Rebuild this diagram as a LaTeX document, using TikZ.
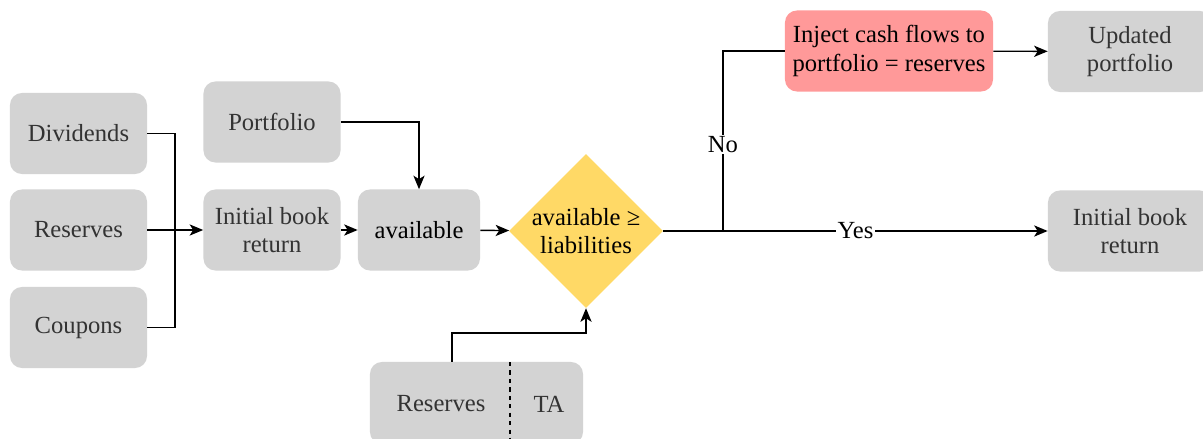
\documentclass[tikz,border=0pt]{standalone}
\usepackage{fontspec}
\setmainfont{Liberation Serif}
\usetikzlibrary{shapes.geometric,arrows.meta}
\definecolor{boxgray}{HTML}{D3D3D3}
\definecolor{textgray}{HTML}{333333}
\definecolor{injred}{HTML}{FF9999}
\definecolor{checkyellow}{HTML}{FFD966}
\begin{document}
\begin{tikzpicture}[x=0.025cm,y=-0.025cm,
    font=\fontsize{17.5}{20}\selectfont,
    box/.style={fill=boxgray, rounded corners=0.3cm, minimum width=3.425cm, minimum height=2.025cm, align=center, text=textgray},
    decision/.style={diamond, fill=checkyellow, minimum width=3.8cm, minimum height=3.8cm, inner sep=0pt, align=center},
    lbl/.style={text=textgray},
    ln/.style={line width=1pt},
    arr/.style={ln, -{Stealth[length=0.34cm,width=0.28cm,inset=0.09cm]}}]
    \useasboundingbox (0,0) rectangle (1203,439);

    % inputs
    \node[box] (div) at (78.5,133.5) {Dividends};
    \node[box] (res) at (78.5,230) {Reserves};
    \node[box] (cou) at (78.5,327.5) {Coupons};
    \node[box] (port) at (272,122) {Portfolio};
    \node[box] (ibr) at (272,230) {Initial book\\return};
    \node[box, minimum width=3.05cm, text=black] (avail) at (419,230) {available};

    % check
    \node[decision] (chk) at (586,231) {available ≥\\liabilities};
    \node[box, fill=injred, text=black, minimum width=5.2cm] (inj) at (889,51) {Inject cash flows to\\portfolio = reserves};
    \node[box, minimum width=4.1cm] (upd) at (1130,51.5) {Updated\\portfolio};
    \node[box, minimum width=4.1cm] (ibr2) at (1130,231) {Initial book\\return};

    % reserves / TA
    \node[box, minimum width=5.325cm, minimum height=2.05cm] (resta) at (476.5,403) {};
    \node[lbl] (resl) at (441,404) {Reserves};
    \node[lbl] (tal) at (549,404) {TA};
    \coordinate (split) at (510,362);
    \draw[ln, dashed] (split) -- (split |- resta.south);

    \coordinate (join) at (175,230);
    \coordinate (fork) at (723,231);
    \coordinate (up) at (452,333);

    \draw[ln] (div.east) -| (join);
    \draw[ln] (cou.east) -| (join);
    \draw[arr] (res.east) -- (ibr.west);
    \draw[arr] (port.east) -| (avail.north);
    \draw[arr] (ibr) -- (avail);
    \draw[arr] (avail) -- (chk);
    \draw[ln] (chk.east) -- (fork) |- node[pos=0.24, fill=white, inner sep=1pt] {No} (inj.west);
    \draw[arr] (chk.east) -- node[fill=white, inner sep=1pt] {Yes} (ibr2.west);
    \draw[arr] (inj) -- (upd);
    \draw[arr] (up |- resta.north) -- (up) -| (chk.south);
\end{tikzpicture}
\end{document}
